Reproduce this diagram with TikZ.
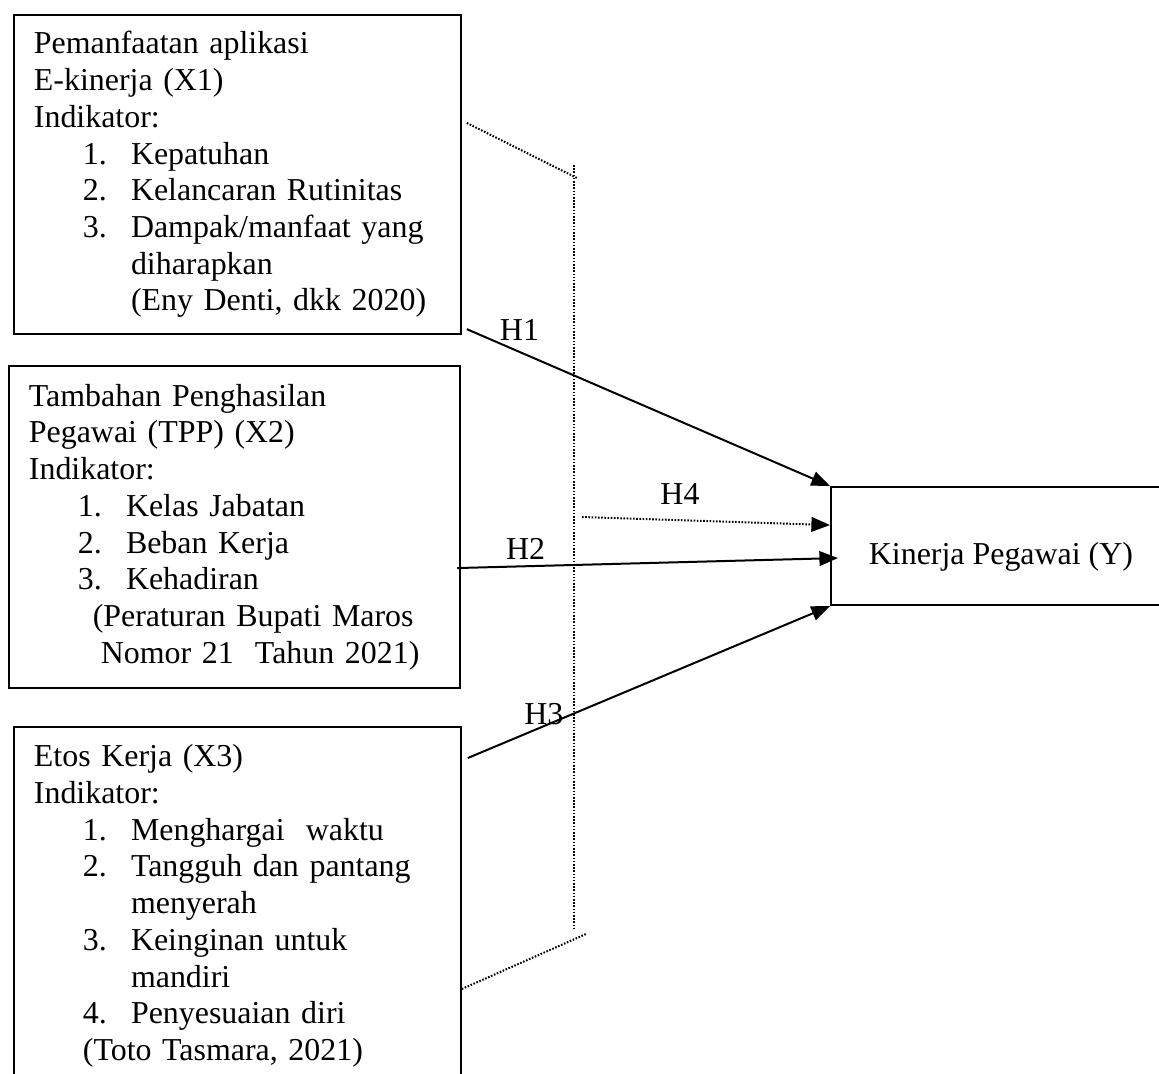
\documentclass[tikz,border=0pt]{standalone}
\usepackage{fontspec}
\setmainfont{Liberation Serif}
\usetikzlibrary{arrows.meta}
\newcommand{\indnum}[1]{\hspace*{18.4pt}\makebox[18.1pt][l]{#1}}
\newcommand{\indtxt}{\hspace*{36.5pt}}

\begin{document}
\begin{tikzpicture}[x=0.376pt,y=-0.376pt,
   font=\fontsize{12}{13.8}\selectfont,
   varbox/.style={draw,line width=0.75pt,anchor=north west,align=left,inner xsep=7.5pt,inner ysep=0pt},
   hyp/.style={line width=0.75pt,-{Triangle[length=7pt,width=5.5pt]}},
   dotline/.style={line width=0.75pt,dash pattern=on 0.6pt off 0.6pt},
   hlabel/.style={inner sep=0pt}]
   \useasboundingbox (0,0) rectangle (1159,1073);

   % variables
   \node[varbox,text width=153pt,minimum height=120pt] (x1) at (13,14)
     {Pemanfaatan aplikasi\\
      E-kinerja (X1)\\
      Indikator:\\
      \indnum{1.}Kepatuhan\\
      \indnum{2.}Kelancaran Rutinitas\\
      \indnum{3.}Dampak/manfaat yang\\
      \indtxt diharapkan\\
      \indtxt (Eny Denti, dkk 2020)};
   \node[varbox,text width=154.6pt,minimum height=121.1pt] (x2) at (8,365)
     {Tambahan Penghasilan\\
      Pegawai (TPP) (X2)\\
      Indikator:\\
      \indnum{1.}Kelas Jabatan\\
      \indnum{2.}Beban Kerja\\
      \indnum{3.}Kehadiran\\
      \hspace*{24pt}(Peraturan Bupati Maros\\
      \hspace*{27pt}Nomor 21\ \ Tahun 2021)};
   \node[varbox,text width=153pt,minimum height=134.6pt] (x3) at (13,726)
     {Etos Kerja (X3)\\
      Indikator:\\
      \indnum{1.}Menghargai\ \ waktu\\
      \indnum{2.}Tangguh dan pantang\\
      \indtxt menyerah\\
      \indnum{3.}Keinginan untuk\\
      \indtxt mandiri\\
      \indnum{4.}Penyesuaian diri\\
      \hspace*{18.4pt}(Toto Tasmara, 2021)};
   \node[draw,line width=0.75pt,anchor=north west,minimum width=127.8pt,minimum height=44.4pt,
         text height=13.5pt,text depth=0pt] (y) at (830,486) {Kinerja Pegawai (Y)};

   % simultaneous bracket
   \coordinate (brtop) at (574,165);
   \coordinate (brbot) at (574,930);
   \coordinate (h4start) at (582,517);
   \draw[dotline] ([shift={(5,109)}]x1.north east) -- (577,178);
   \draw[dotline] (brtop) -- (brbot);
   \draw[dotline] ([shift={(0,83)}]x3.east) -- (586,934);

   % hypotheses
   \draw[hyp] ([shift={(5,-6)}]x1.south east) -- node[hlabel,pos=0.145,above=4pt] (h1) {H1} (y.north west);
   \draw[hyp,dotline] (h4start) -- node[hlabel,pos=0.395,above=5.6pt] (h4) {H4} ([shift={(0,-21)}]y.west);
   \draw[hyp] ([shift={(-4,41)}]x2.east) -- node[hlabel,pos=0.18,above=2pt] (h2) {H2} ([shift={(8,12)}]y.west);
   \draw[hyp] ([shift={(6,32)}]x3.north east) -- node[hlabel,pos=0.21,above=0pt] (h3) {H3} (y.south west);
\end{tikzpicture}
\end{document}
